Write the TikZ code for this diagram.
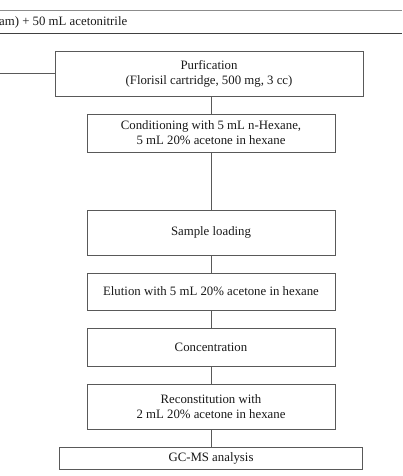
\documentclass[tikz,border=0pt]{standalone}
\usepackage{fontspec}
\setmainfont{Liberation Serif}
\begin{document}
\begin{tikzpicture}[x=1pt,y=-1pt,
  stepbox/.style={draw=black!65,line width=0.9pt,fill=white,inner sep=0pt,align=center,text=black!90,font=\fontsize{12.8}{15.2}\selectfont},
  conn/.style={draw=black!65,line width=0.9pt}]
\useasboundingbox (0,0) rectangle (402,476);
% top (cropped) box
\draw[black!45,line width=0.9pt] (0,10.5) -- (402,10.5);
\draw[black!75,line width=0.9pt] (0,33) -- (402,33);
\node[anchor=west,inner sep=0pt,text=black!90,font=\fontsize{12.8}{15.2}\selectfont] (top) at (-1,22) {am) + 50 mL acetonitrile};
% boxes
\node[stepbox,minimum width=308pt,minimum height=45pt] (pur) at (209,73.5) {Purfication\\(Florisil cartridge, 500 mg, 3 cc)};
\coordinate (left) at (0,73.5);
\node[stepbox,minimum width=248pt,minimum height=38pt] (cond) at (211,133) {Conditioning with 5 mL n-Hexane,\\5 mL 20\% acetone in hexane};
\node[stepbox,minimum width=248pt,minimum height=45pt] (load) at (211,232.5) {Sample loading};
\node[stepbox,minimum width=248pt,minimum height=37pt] (elu) at (211,291.5) {Elution with 5 mL 20\% acetone in hexane};
\node[stepbox,minimum width=248pt,minimum height=38pt] (conc) at (211,347) {Concentration};
\node[stepbox,minimum width=248pt,minimum height=45pt] (rec) at (211,406.5) {Reconstitution with\\2 mL 20\% acetone in hexane};
\node[stepbox,minimum width=303pt,minimum height=22pt] (gc) at (211,458) {GC-MS analysis};
% connectors
\draw[conn] (left) -- (pur.west);
\draw[conn] (pur.south -| cond.north) -- (cond.north);
\draw[conn] (cond) -- (load);
\draw[conn] (load) -- (elu);
\draw[conn] (elu) -- (conc);
\draw[conn] (conc) -- (rec);
\draw[conn] (rec) -- (gc);
\end{tikzpicture}
\end{document}
